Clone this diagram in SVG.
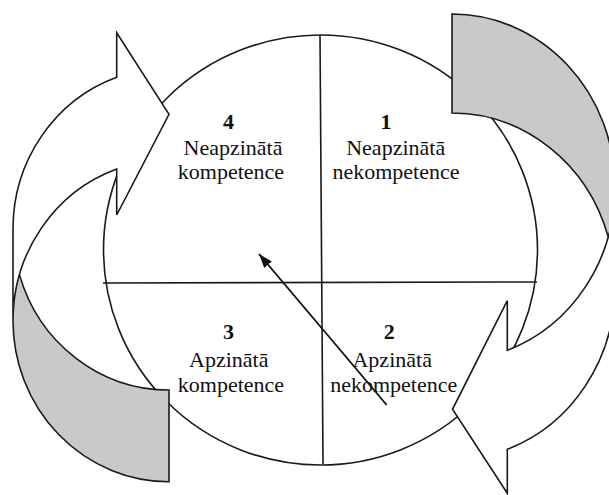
<svg xmlns="http://www.w3.org/2000/svg" width="609" height="495" viewBox="0 0 609 495">
  <style>
    .ln { fill: none; stroke: #1a1a1a; stroke-width: 1.6; stroke-linejoin: miter; }
    .front { fill: #ffffff; stroke: none; }
    .back { fill: #c9c9c9; stroke: none; }
    .num { font-family: "Liberation Serif", "Times New Roman", serif; font-size: 22px; font-weight: bold; fill: #111; text-anchor: middle; }
    .lbl { font-family: "Liberation Serif", "Times New Roman", serif; font-size: 22px; fill: #111; text-anchor: middle; }
  </style>
  <defs>
    <marker id="head" markerUnits="userSpaceOnUse" markerWidth="16" markerHeight="12" refX="14" refY="5" orient="auto">
      <path d="M0,0 L14,5 L0,10 z" fill="#111"/>
    </marker>
  </defs>

  <rect width="609" height="495" fill="#ffffff"/>

  <!-- circle split into four quadrants -->
  <g id="cycle">
    <ellipse cx="320.5" cy="250" rx="217" ry="215" class="ln"/>
    <line x1="320" y1="35" x2="323" y2="464" class="ln"/>
    <line x1="103" y1="283" x2="537" y2="282" class="ln"/>
  </g>

  <!-- left curved arrow, head pointing right at the top -->
  <g id="arrow-left">
    <path class="front" d="M13 320.7 A156 161 0 0 1 116.7 169 L116.7 215 L169 114.3 L116.7 32.7 L116.7 77.3 A156 161 0 0 0 13 229 Z"/>
    <path class="back" d="M169 481.7 A156 161 0 0 1 19.5 274.85 A156 161 0 0 0 169 390 Z"/>
    <path class="ln" d="M13 320.7 A156 161 0 0 1 116.7 169 L116.7 215 L169 114.3 L116.7 32.7 L116.7 77.3 A156 161 0 0 0 13 229 L13 320.7 A156 161 0 0 0 169 481.7 L169 390 A156 161 0 0 1 19.5 274.85"/>
  </g>

  <!-- right curved arrow, head pointing left at the bottom -->
  <g id="arrow-right">
    <path class="front" d="M615 187.3 A163 173.3 0 0 1 507.3 350.3 L507.3 300.7 L452.5 409.3 L507.3 493.3 L507.3 449.3 A163 173.3 0 0 0 615 286.3 Z"/>
    <path class="back" d="M452 14 A163 173.3 0 0 1 608.2 236.8 A163 173.3 0 0 0 452 113 Z"/>
    <path class="ln" d="M615 187.3 A163 173.3 0 0 1 507.3 350.3 L507.3 300.7 L452.5 409.3 L507.3 493.3 L507.3 449.3 A163 173.3 0 0 0 615 286.3 L615 187.3 A163 173.3 0 0 0 452 14 L452 113 A163 173.3 0 0 1 608.2 236.8"/>
  </g>

  <!-- quadrant labels -->
  <g id="q4">
    <text class="num" x="228.5" y="128.5">4</text>
    <text class="lbl" x="233" y="155">Neapzinātā</text>
    <text class="lbl" x="231" y="179">kompetence</text>
  </g>
  <g id="q1">
    <text class="num" x="386" y="128.5">1</text>
    <text class="lbl" x="395.7" y="155">Neapzinātā</text>
    <text class="lbl" x="396" y="179">nekompetence</text>
  </g>
  <g id="q3">
    <text class="num" x="228.5" y="338.5">3</text>
    <text class="lbl" x="228.8" y="366.5">Apzinātā</text>
    <text class="lbl" x="231" y="391.5">kompetence</text>
  </g>
  <g id="q2">
    <text class="num" x="389.3" y="338.5">2</text>
    <text class="lbl" x="392.2" y="366.5">Apzinātā</text>
    <text class="lbl" x="393.7" y="391.5">nekompetence</text>
  </g>

  <!-- connector from quadrant 2 back toward quadrant 4 -->
  <g id="connectors">
    <line x1="386.7" y1="405" x2="259" y2="254" stroke="#111" stroke-width="1.8" marker-end="url(#head)"/>
  </g>
</svg>
